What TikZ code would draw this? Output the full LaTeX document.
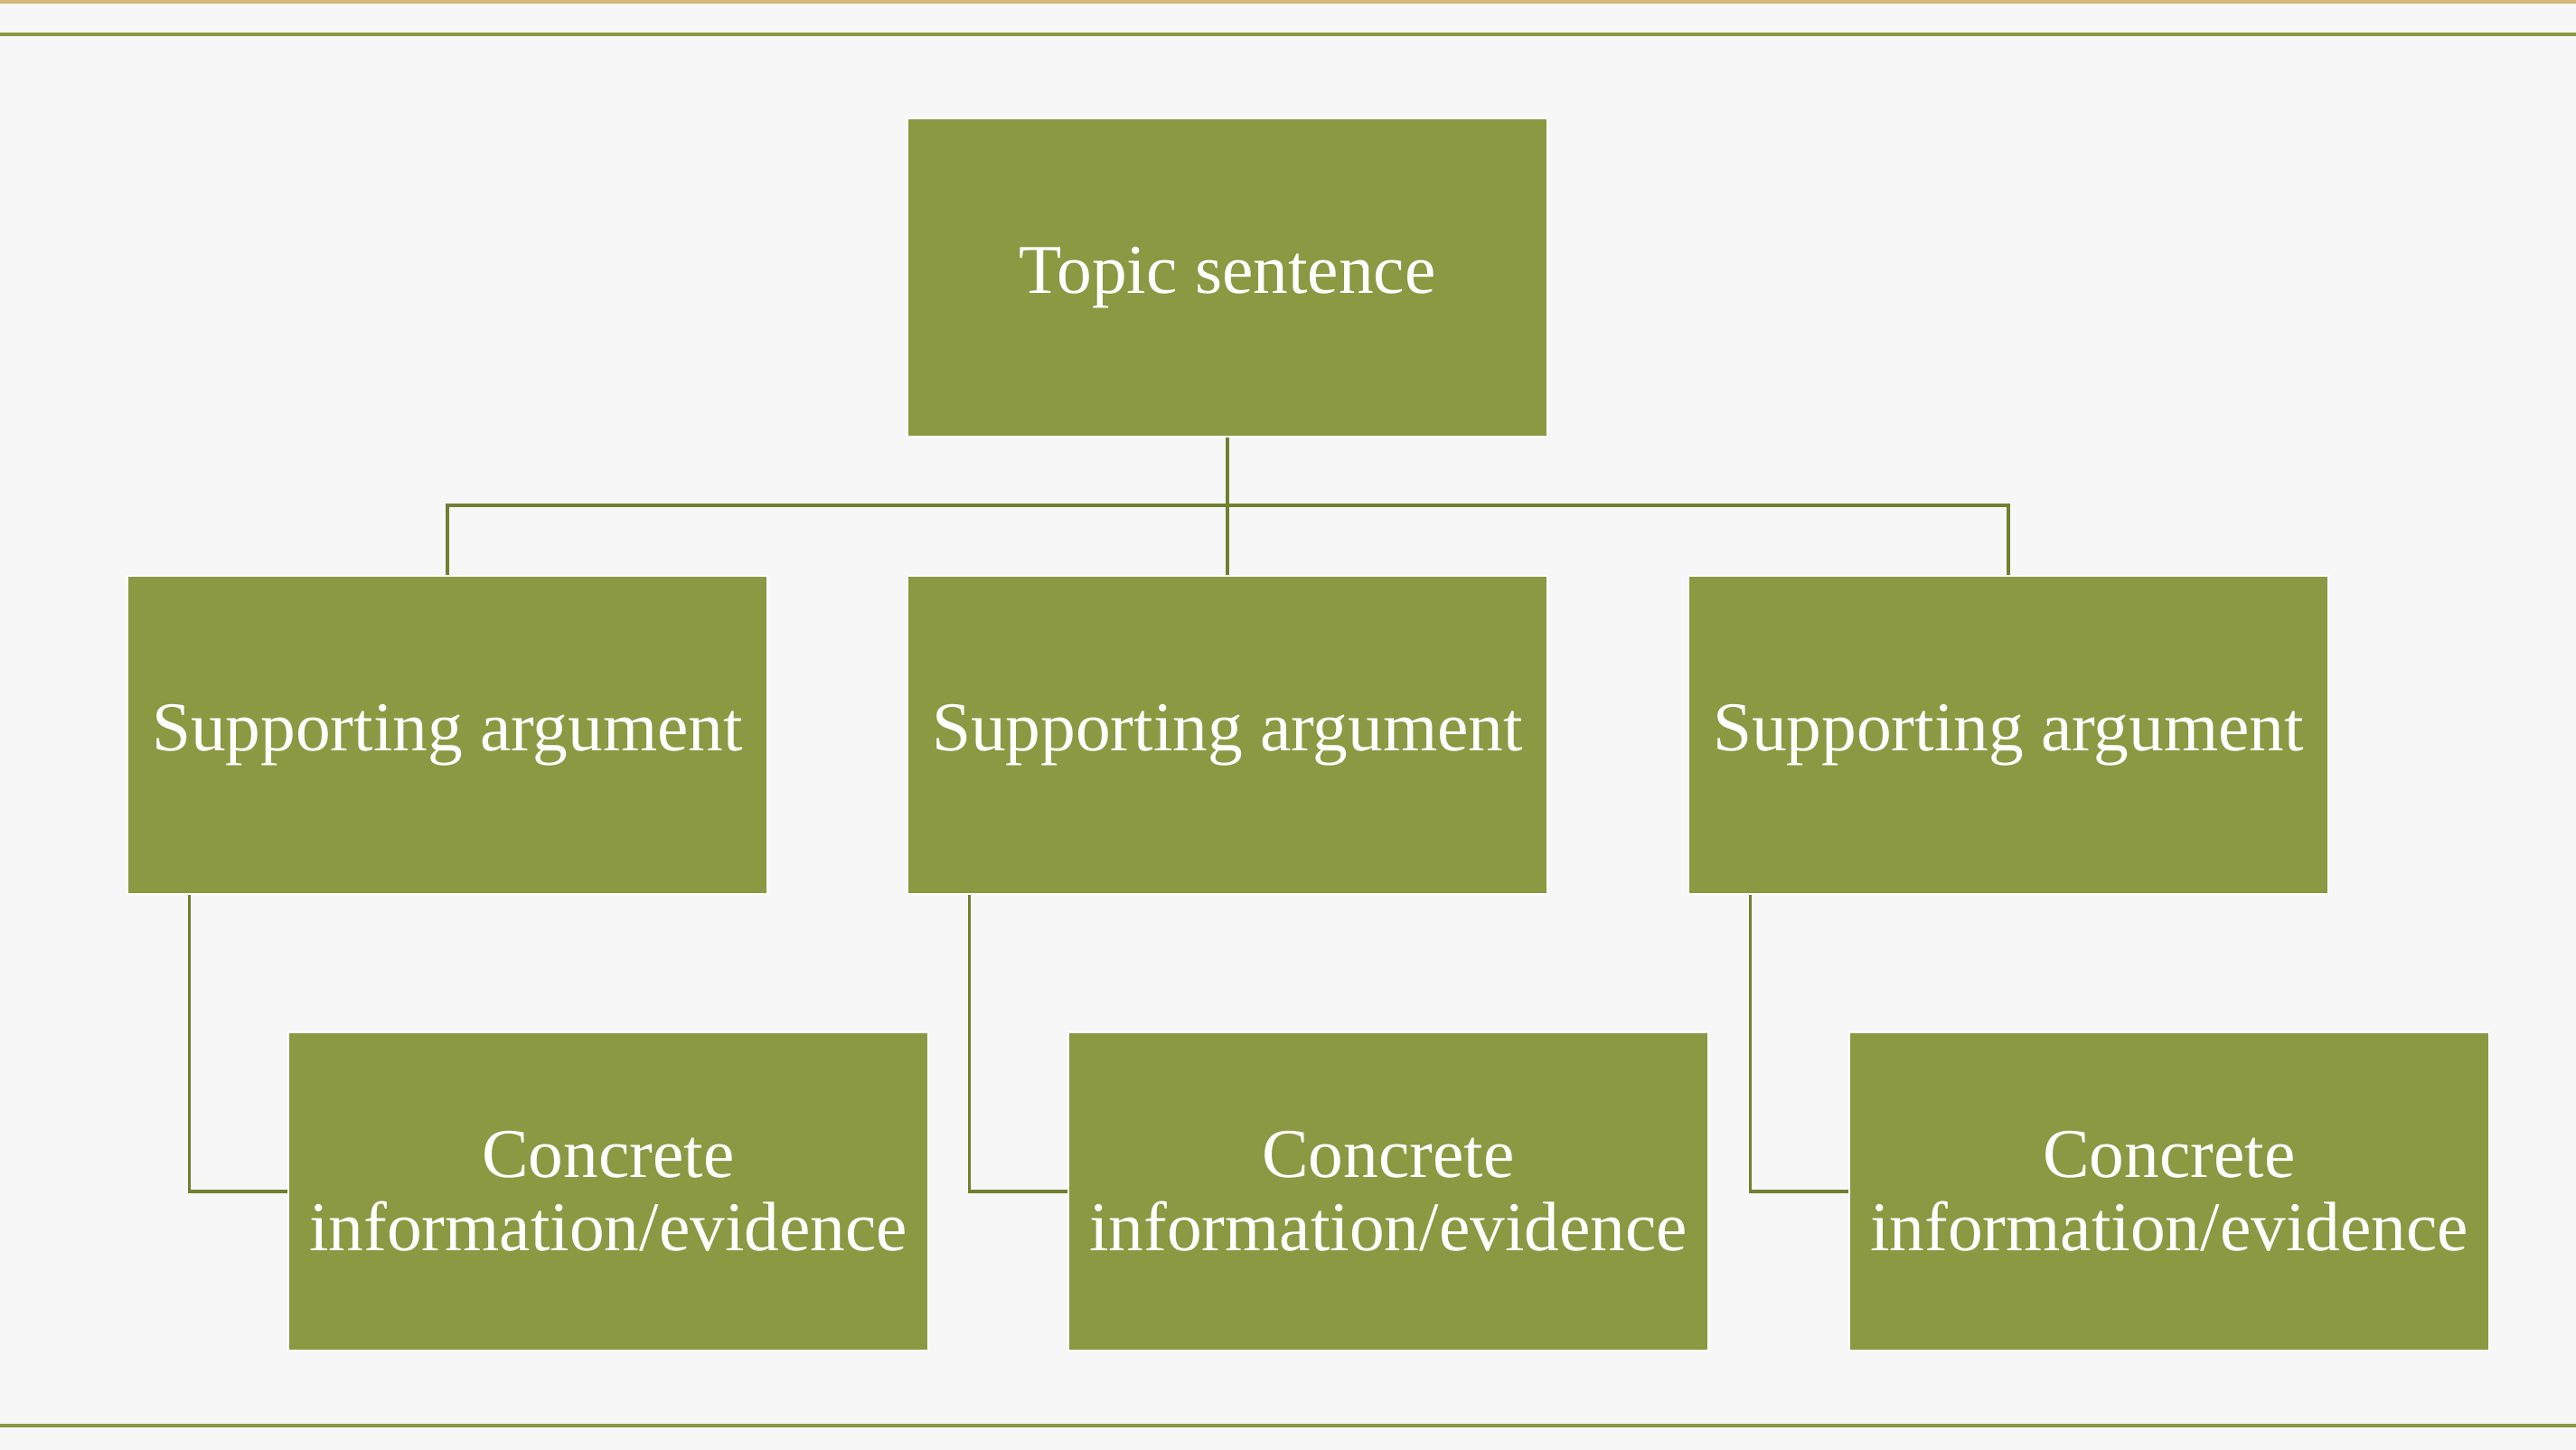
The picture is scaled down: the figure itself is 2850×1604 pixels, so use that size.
\documentclass[tikz,border=0pt]{standalone}
\usepackage{fontspec}
\setmainfont{Liberation Serif}
\usepackage{tikz}

\definecolor{boxgreen}{RGB}{138,153,66}
\definecolor{linegreen}{RGB}{112,128,48}
\definecolor{paper}{RGB}{247,247,247}
\definecolor{gold}{RGB}{214,182,118}

\begin{document}
\begin{tikzpicture}[x=0.01cm, y=-0.01cm,
		box/.style={rectangle, fill=boxgreen, draw=white, line width=0.6pt, inner sep=0pt,
			minimum width=7.07cm, minimum height=3.52cm, text=white, align=center,
			font=\fontsize{22}{23}\selectfont},
		link/.style={draw=linegreen, line width=1pt}]
		\useasboundingbox (0,0) rectangle (2850,1604);
		\begin{scope}
			\fill[paper] (0,0) rectangle (2850,1604);
			\fill[gold] (0,0) rectangle (2850,4);
			\fill[boxgreen] (0,36) rectangle (2850,40);
			\fill[boxgreen] (0,1575) rectangle (2850,1579);
		\end{scope}

		\node[box] (topic) at (1358,307) {Topic sentence};

		\node[box] (arg1) at (495,813) {Supporting argument};
		\node[box] (arg2) at (1358,813) {Supporting argument};
		\node[box] (arg3) at (2222,813) {Supporting argument};

		\node[box] (info1) at (673,1318) {Concrete\\information/evidence};
		\node[box] (info2) at (1536,1318) {Concrete\\information/evidence};
		\node[box] (info3) at (2400,1318) {Concrete\\information/evidence};

		\coordinate (bus) at (1358,559);
		\draw[link] (topic.south) -- (bus) -| (arg1.north);
		\draw[link] (bus) -| (arg3.north);
		\draw[link] (bus) -- (arg2.north);

		\foreach \i in {1,2,3}
			\draw[link] ([xshift=0.69cm]arg\i.south west) |- (info\i.west);
		\end{tikzpicture}
\end{document}
